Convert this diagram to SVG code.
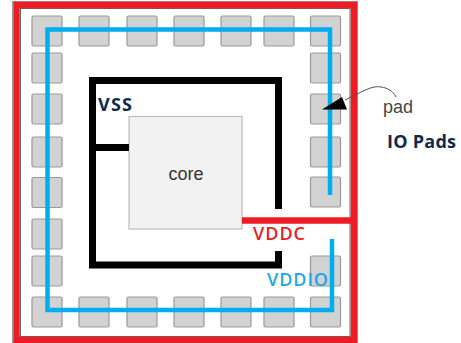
<svg xmlns="http://www.w3.org/2000/svg" width="461" height="343" viewBox="0 0 461 343">
<defs><style>
.pad{fill:#d2d2d2;stroke:#999;stroke-width:1.2}
.w{fill:none;stroke-linejoin:miter}
.b{font-family:"Open Sans","Liberation Sans",sans-serif;font-weight:600;font-size:18px}
.s{font-weight:700}
</style></defs>
<rect width="461" height="343" fill="#fff"/>
<g id="pads">
<rect class="pad" x="32" y="16" width="30" height="30" rx="1.5"/>
<rect class="pad" x="79" y="16" width="30" height="30" rx="1.5"/>
<rect class="pad" x="127" y="16" width="30" height="30" rx="1.5"/>
<rect class="pad" x="174" y="16" width="30" height="30" rx="1.5"/>
<rect class="pad" x="221" y="16" width="30" height="30" rx="1.5"/>
<rect class="pad" x="264" y="16" width="30" height="30" rx="1.5"/>
<rect class="pad" x="310.500" y="16" width="30" height="30" rx="1.5"/>
<rect class="pad" x="32" y="53" width="30" height="30" rx="1.5"/>
<rect class="pad" x="32" y="94" width="30" height="30" rx="1.5"/>
<rect class="pad" x="32" y="137" width="30" height="30" rx="1.5"/>
<rect class="pad" x="32" y="177.500" width="30" height="30" rx="1.5"/>
<rect class="pad" x="32" y="219" width="30" height="30" rx="1.5"/>
<rect class="pad" x="32" y="256" width="30" height="30" rx="1.5"/>
<rect class="pad" x="310.500" y="53" width="30" height="30" rx="1.5"/>
<rect class="pad" x="310.500" y="94" width="30" height="30" rx="1.5"/>
<rect class="pad" x="310.500" y="137" width="30" height="30" rx="1.5"/>
<rect class="pad" x="310.500" y="177" width="30" height="30" rx="1.5"/>
<rect class="pad" x="310.500" y="256" width="30" height="30" rx="1.5"/>
<rect class="pad" x="32" y="297" width="30" height="30" rx="1.5"/>
<rect class="pad" x="79" y="297" width="30" height="30" rx="1.5"/>
<rect class="pad" x="127" y="297" width="30" height="30" rx="1.5"/>
<rect class="pad" x="174" y="297" width="30" height="30" rx="1.5"/>
<rect class="pad" x="221" y="297" width="30" height="30" rx="1.5"/>
<rect class="pad" x="264" y="297" width="30" height="30" rx="1.5"/>
<rect class="pad" x="310.500" y="297" width="30" height="30" rx="1.5"/>
</g>
<g id="core">
<rect x="129" y="116.500" width="113" height="112.500" fill="#f2f2f2" stroke="#bdbdbd" stroke-width="1.2"/>
<text x="186" y="179.500" text-anchor="middle" font-family="'Liberation Sans',Arial,sans-serif" font-size="18" fill="#333">core</text>
</g>
<g id="connectors">
<rect x="12.500" y="1.500" width="345" height="341" fill="none" stroke="#999" stroke-width="1"/>
<rect x="20.500" y="8.500" width="329.500" height="328" fill="none" stroke="#666" stroke-width="1"/>
<path class="w" d="M16.500 343V5H354V343M16.500 340H354M242 220.500H354" stroke="#ed1c24" stroke-width="6.500"/>
<path class="w" d="M278.500 209V80.500H92.500V265H278.500V251M92.500 147.500H129" stroke="#000" stroke-width="7"/>
<path class="w" d="M330 195V29.500H47.500V310H332V239" stroke="#00aeef" stroke-width="4.500"/>
<path d="M345 100C362 92 372 85 381 87C388 88 393 91 396 97" fill="none" stroke="#555" stroke-width="1"/>
<polygon points="322,109.500 342,97 347,109.500" fill="#000"/>
</g>
<g id="labels">
<text class="b s" x="98" y="111" fill="#0b2a55" textLength="34">VSS</text>
<text class="b" x="253" y="240" fill="#ed1c24" textLength="52">VDDC</text>
<text class="b" x="267" y="286" fill="#1ca7e8" textLength="61">VDDIO</text>
<text class="b s" x="387" y="148" fill="#10294f" textLength="69">IO Pads</text>
<text x="383" y="113" font-family="'Liberation Sans',Arial,sans-serif" font-size="18" fill="#444">pad</text>
</g>
</svg>
